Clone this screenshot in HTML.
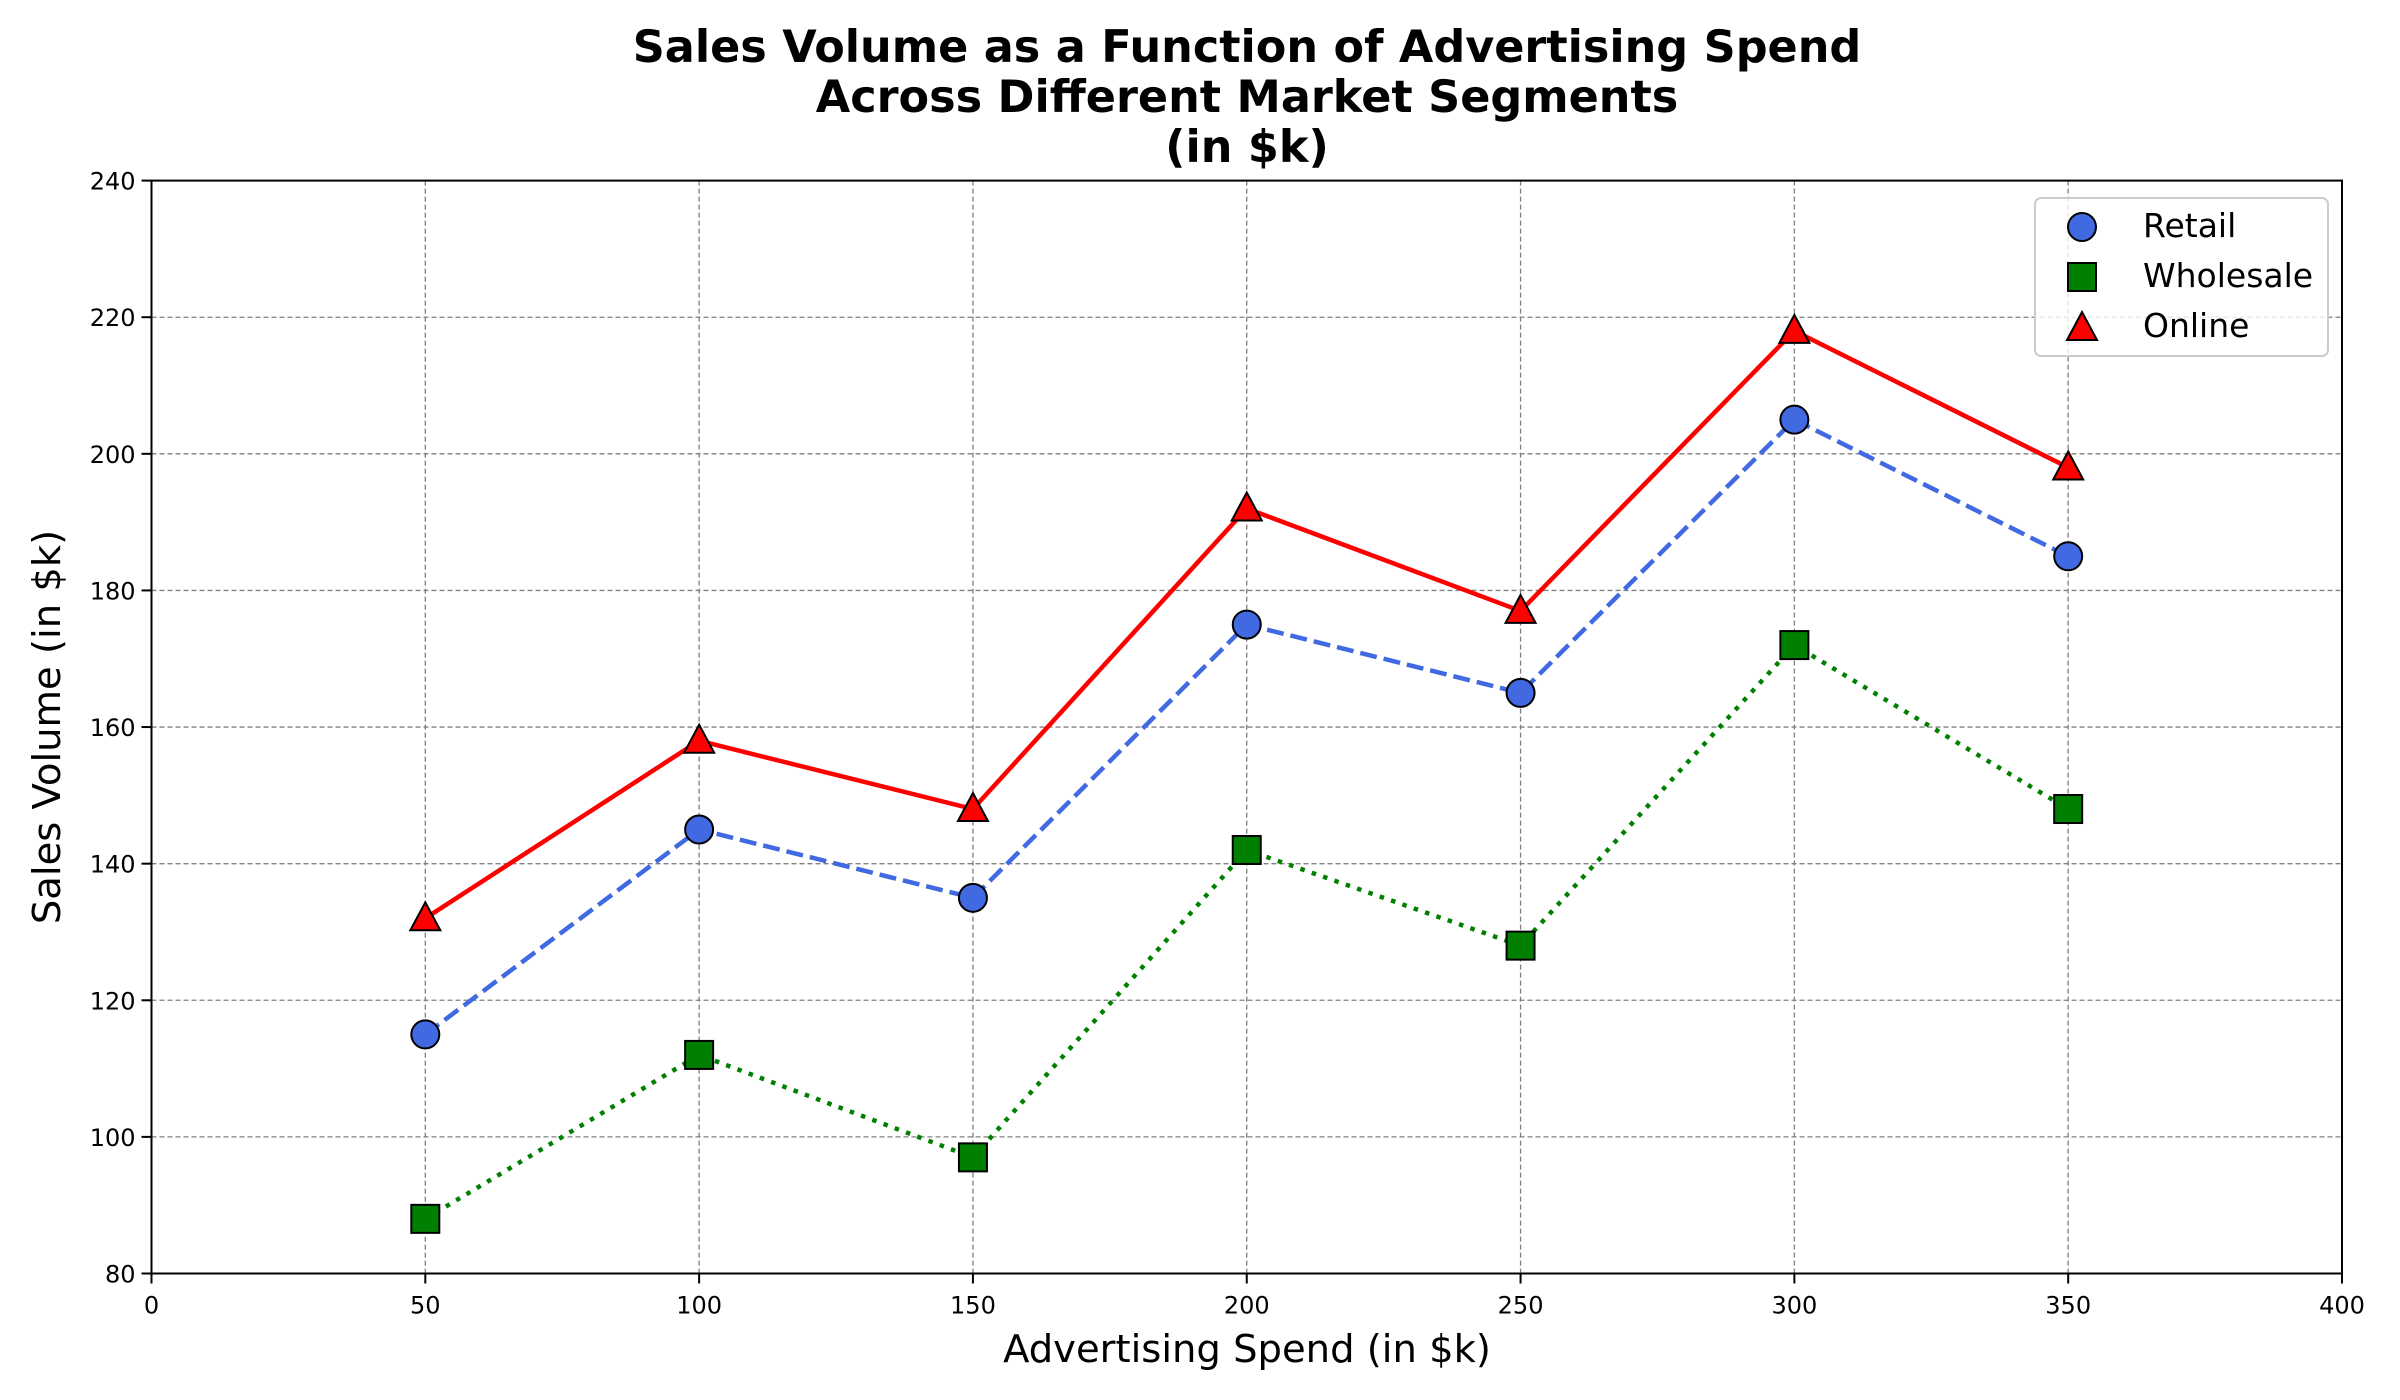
<!DOCTYPE html>
<html><head><meta charset="utf-8"><style>body{margin:0;background:#fff}svg{display:block;font-family:"DejaVu Sans","Liberation Sans",sans-serif}</style></head>
<body>
<svg id="chart" width="2400" height="1400" xmlns="http://www.w3.org/2000/svg">
<rect width="2400" height="1400" fill="#fff"/>
<g id="grid"></g>
<g id="series"></g>
<rect x="151.5" y="180.6" width="2190.5" height="1092.9" fill="none" stroke="#000" stroke-width="2"/>
<g id="ticks"></g>
<text x="1247" y="62" text-anchor="middle" font-size="44.5" font-weight="bold">Sales Volume as a Function of Advertising Spend</text>
<text x="1247" y="112" text-anchor="middle" font-size="44.5" font-weight="bold">Across Different Market Segments</text>
<text x="1247" y="162" text-anchor="middle" font-size="44.5" font-weight="bold">(in $k)</text>
<text x="1247" y="1362" text-anchor="middle" font-size="38.5">Advertising Spend (in $k)</text>
<text transform="translate(60,727) rotate(-90)" text-anchor="middle" font-size="38.5">Sales Volume (in $k)</text>
<g>
<rect x="2035" y="198" width="293" height="158" rx="6" fill="#fff" fill-opacity="0.8" stroke="#ccc" stroke-width="2"/>
<circle cx="2082" cy="227" r="14" fill="#4169e1" stroke="#000" stroke-width="2"/>
<text x="2143" y="237" font-size="33">Retail</text>
<rect x="2068" y="263" width="28" height="28" fill="#008000" stroke="#000" stroke-width="2"/>
<text x="2143" y="287" font-size="33">Wholesale</text>
<polygon points="2082,312 2097,340 2067,340" fill="#f00" stroke="#000" stroke-width="2"/>
<text x="2143" y="337" font-size="33">Online</text>
</g>
</svg>
<script>
const xValues=[50,100,150,200,250,300,350];
const retail=[115,145,135,175,165,205,185];
const wholesale=[88,112,97,142,128,172,148];
const online=[132,158,148,192,177,218,198];
const xTicks=[0,50,100,150,200,250,300,350,400];
const yTicks=[80,100,120,140,160,180,200,220,240];
const NS='http://www.w3.org/2000/svg';
const L=151.5,R=2342,T=180.6,B=1273.5;
const sx=v=>L+(v-0)/(400-0)*(R-L);
const sy=v=>B-(v-80)/(240-80)*(B-T);
function mk(tag,attrs,parent){const e=document.createElementNS(NS,tag);for(const k in attrs)e.setAttribute(k,attrs[k]);parent.appendChild(e);return e;}
const grid=document.getElementById('grid'),ticks=document.getElementById('ticks'),ser=document.getElementById('series');
xTicks.forEach(v=>{const x=sx(v);
 const g=mk('line',{x1:x,x2:x,y1:T,y2:B,stroke:'#808080','stroke-width':1.3,'stroke-dasharray':'5,3'},grid);
 
 const t=mk('line',{x1:x,x2:x,y1:B,y2:B+10,stroke:'#000','stroke-width':2},ticks);
 
 const l=mk('text',{x:x,y:B+40,'text-anchor':'middle','font-size':24},ticks);l.textContent=v;
 });
yTicks.forEach(v=>{const y=sy(v);
 const g=mk('line',{x1:L,x2:R,y1:y,y2:y,stroke:'#808080','stroke-width':1.3,'stroke-dasharray':'5,3'},grid);
 
 const t=mk('line',{x1:L-10,x2:L,y1:y,y2:y,stroke:'#000','stroke-width':2},ticks);
 
 const l=mk('text',{x:L-16,y:y+9,'text-anchor':'end','font-size':24},ticks);l.textContent=v;
 });
function line(vals,color,dash,name){const p=mk('polyline',{points:vals.map((v,i)=>sx(xValues[i])+','+sy(v)).join(' '),fill:'none',stroke:color,'stroke-width':4.5,'stroke-dasharray':dash},ser);
 }
line(retail,'#4169e1','17,7','retail-line');
line(wholesale,'#008000','4.5,7.5','wholesale-line');
line(online,'#f00','none','online-line');
retail.forEach((v,i)=>{const c=mk('circle',{cx:sx(xValues[i]),cy:sy(v),r:14,fill:'#4169e1',stroke:'#000','stroke-width':2},ser);
 });
wholesale.forEach((v,i)=>{const x=sx(xValues[i]),y=sy(v);const c=mk('rect',{x:x-14,y:y-14,width:28,height:28,fill:'#008000',stroke:'#000','stroke-width':2},ser);
 });
online.forEach((v,i)=>{const x=sx(xValues[i]),y=sy(v);const c=mk('polygon',{points:`${x},${y-16} ${x+15},${y+12} ${x-15},${y+12}`,fill:'#f00',stroke:'#000','stroke-width':2},ser);
 });
</script>
</body></html>
